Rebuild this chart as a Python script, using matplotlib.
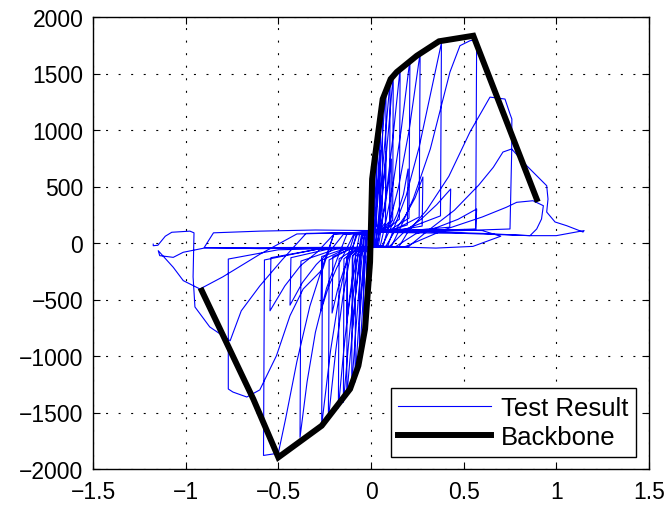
import matplotlib
matplotlib.use("Agg")
import matplotlib.pyplot as plt
import numpy as np

# ---------------- data ----------------
# Backbone (envelope) curve
backbone_x = [-0.913, -0.635, -0.500, -0.266, -0.113, -0.068, -0.032, -0.005,
              0.006, 0.022, 0.063, 0.106, 0.139, 0.247, 0.367, 0.552, 0.894]
backbone_y = [-422, -1381, -1897, -1617, -1292, -1086, -761, -168,
              566, 770, 1274, 1451, 1513, 1657, 1785, 1834, 389]

# Test result: hysteresis cycles, in loading order (displacement, force)
cyc01_x = [0.000, 0.004, 0.010, 0.016, 0.014, 0.008, 0.000, -0.008, -0.012, -0.017, -0.023, -0.021, -0.010, 0.000, 0.004]
cyc01_y = [-20, 200, 480, 680, 130, 100, 90, 70, -150, -380, -560, -120, -40, -30, -25]
cyc02_x = [0.004, 0.012, 0.020, 0.027, 0.031, 0.028, 0.015, 0.000, -0.014, -0.020, -0.027, -0.034, -0.041, -0.038, -0.020, 0.000, 0.008]
cyc02_y = [-25, 250, 560, 820, 1000, 150, 100, 90, 70, -150, -380, -620, -850, -120, -40, -30, -25]
cyc03_x = [0.008, 0.018, 0.030, 0.040, 0.049, 0.046, 0.024, 0.000, -0.020, -0.030, -0.040, -0.052, -0.063, -0.060, -0.030, 0.000, 0.012]
cyc03_y = [-25, 260, 620, 930, 1200, 160, 100, 90, 70, -150, -420, -760, -1080, -120, -40, -30, -25]
cyc03b_x = [0.012, 0.024, 0.037, 0.049, 0.047, 0.024, 0.000, -0.022, -0.035, -0.050, -0.063, -0.061, -0.030, 0.000, 0.014]
cyc03b_y = [-25, 200, 470, 820, 140, 100, 90, 70, -180, -430, -720, -110, -40, -30, -25]
cyc04_x = [0.014, 0.025, 0.038, 0.051, 0.063, 0.060, 0.030, 0.000, -0.028, -0.040, -0.054, -0.070, -0.086, -0.083, -0.040, 0.000, 0.018]
cyc04_y = [-25, 240, 600, 960, 1290, 170, 105, 90, 70, -150, -440, -820, -1230, -120, -40, -30, -25]
cyc05_x = [0.018, 0.030, 0.046, 0.064, 0.081, 0.078, 0.040, 0.000, -0.035, -0.050, -0.067, -0.086, -0.104, -0.101, -0.050, 0.000, 0.022]
cyc05_y = [-25, 230, 590, 990, 1380, 180, 105, 90, 70, -150, -460, -860, -1270, -120, -40, -30, -25]
cyc05b_x = [0.022, 0.038, 0.054, 0.068, 0.080, 0.078, 0.040, 0.000, -0.036, -0.054, -0.070, -0.086, -0.100, -0.098, -0.050, 0.000, 0.026]
cyc05b_y = [-25, 140, 330, 560, 805, 150, 100, 90, 70, -110, -280, -500, -760, -110, -40, -30, -25]
cyc06_x = [0.026, 0.040, 0.058, 0.080, 0.103, 0.100, 0.050, 0.000, -0.045, -0.064, -0.084, -0.106, -0.131, -0.128, -0.060, 0.000, 0.030]
cyc06_y = [-25, 220, 570, 990, 1440, 190, 110, 92, 72, -150, -470, -890, -1360, -130, -40, -30, -25]
cyc06b_x = [0.030, 0.050, 0.072, 0.092, 0.110, 0.107, 0.055, 0.000, -0.046, -0.070, -0.092, -0.112, -0.130, -0.127, -0.060, 0.000, 0.034]
cyc06b_y = [-25, 130, 300, 500, 743, 160, 105, 90, 70, -110, -270, -470, -700, -110, -40, -30, -25]
cyc07_x = [0.034, 0.050, 0.070, 0.094, 0.120, 0.117, 0.060, 0.000, -0.052, -0.074, -0.097, -0.122, -0.149, -0.146, -0.070, 0.000, 0.040]
cyc07_y = [-28, 210, 560, 990, 1490, 200, 112, 92, 72, -150, -480, -910, -1410, -140, -45, -32, -28]
cyc08_x = [0.040, 0.062, 0.090, 0.122, 0.157, 0.153, 0.080, 0.000, -0.062, -0.088, -0.116, -0.146, -0.176, -0.172, -0.080, 0.000, 0.050]
cyc08_y = [-28, 200, 540, 990, 1540, 210, 115, 95, 75, -150, -490, -930, -1460, -140, -45, -32, -28]
cyc09_x = [0.050, 0.080, 0.118, 0.162, 0.210, 0.205, 0.105, 0.000, -0.080, -0.115, -0.152, -0.190, -0.230, -0.226, -0.110, 0.000, 0.060]
cyc09_y = [-28, 190, 510, 990, 1620, 220, 118, 95, 75, -140, -480, -950, -1560, -150, -48, -32, -28]
cyc09b_x = [0.060, 0.100, 0.140, 0.175, 0.200, 0.196, 0.100, 0.000, -0.075, -0.110, -0.145, -0.180, -0.210, -0.206, -0.100, 0.000, 0.065]
cyc09b_y = [-28, 110, 250, 430, 655, 160, 108, 92, 72, -90, -230, -410, -620, -120, -45, -32, -28]
cyc10_x = [0.065, 0.100, 0.148, 0.205, 0.265, 0.260, 0.130, 0.000, -0.090, -0.130, -0.172, -0.218, -0.266, -0.262, -0.130, 0.000, 0.080]
cyc10_y = [-30, 180, 490, 990, 1680, 230, 120, 95, 75, -140, -470, -950, -1610, -150, -48, -32, -30]
cyc10b_x = [0.080, 0.130, 0.185, 0.238, 0.280, 0.276, 0.140, 0.000, -0.095, -0.140, -0.185, -0.230, -0.270, -0.266, -0.130, 0.000, 0.090]
cyc10b_y = [-30, 110, 240, 400, 584, 150, 110, 92, 72, -80, -220, -390, -600, -120, -45, -32, -30]
cyc11_x = [0.090, 0.130, 0.190, 0.260, 0.325, 0.380, 0.375, 0.190, 0.000, -0.130, -0.180, -0.240, -0.300,
           -0.345, -0.383, -0.378, -0.190, 0.000, 0.100]
cyc11_y = [-30, 160, 420, 850, 1350, 1770, 240, 125, 98, 78, -130, -400, -790,
           -1230, -1720, -160, -55, -35, -30]
cyc11b_x = [0.100, 0.180, 0.270, 0.355, 0.430, 0.425, 0.215, 0.000, -0.150, -0.220, -0.295, -0.370, -0.437, -0.432, -0.220, 0.000, 0.110]
cyc11b_y = [-30, 100, 210, 340, 478, 140, 110, 95, 75, -70, -190, -350, -550, -130, -50, -35, -30]
cyc12_x = [0.110, 0.160, 0.230, 0.320, 0.426, 0.480, 0.534, 0.570, 0.565, 0.300, 0.000, -0.200, -0.260, -0.330,
           -0.400, -0.460, -0.500, -0.580, -0.575, -0.290, 0.000, 0.130]
cyc12_y = [-30, 140, 400, 832, 1513, 1746, 1790, 1800, 124, 110, 100, 80, -200, -560,
           -1050, -1550, -1860, -1880, -150, -55, -38, -35]
cyc12b_x = [0.130, 0.240, 0.360, 0.470, 0.570, 0.565, 0.300, 0.000, -0.200, -0.290, -0.380, -0.465, -0.545, -0.540, -0.270, 0.000, 0.150]
cyc12b_y = [-35, 80, 140, 210, 301, 120, 105, 95, 78, -80, -200, -380, -600, -130, -50, -38, -35]
cyc12c_x = [0.150, 0.350, 0.550, 0.700, 0.600, 0.300, 0.000, -0.300, -0.600, -0.850, -0.900, -0.600, -0.300, 0.000, 0.150]
cyc12c_y = [-35, -45, -30, 60, 110, 120, 110, 115, 105, 90, -40, -50, -45, -40, -35]
cyc13_x = [0.150, 0.200, 0.300, 0.420, 0.534, 0.642, 0.723, 0.750, 0.760, 0.759, 0.750, 0.400, 0.000, -0.200,
           -0.260, -0.366, -0.437, -0.510, -0.600, -0.670, -0.745, -0.770, -0.770, -0.500, 0.000, 0.180]
cyc13_y = [-35, 100, 290, 590, 982, 1291, 1274, 1142, 1097, 800, 124, 105, 100, 85,
           -230, -407, -643, -997, -1300, -1363, -1319, -1292, -142, -60, -40, -35]
cyc13b_x = [0.180, 0.400, 0.600, 0.730, 0.786, 0.874, 0.930, 0.920, 0.894, 0.858, 0.500, 0.000, -0.400, -0.600,
            -0.800, -0.923, -1.013, -1.067, -1.148, -1.140, -1.067, -1.013, -0.900, -0.500, 0.000, 0.200]
cyc13b_y = [-35, 120, 230, 316, 360, 374, 330, 212, 124, 65, 85, 95, 80, -100,
            -300, -407, -333, -215, -68, -112, -127, -82, -45, -40, -38, -35]
cyc14_x = [0.200, 0.300, 0.450, 0.580, 0.660, 0.712, 0.759, 0.840, 0.894, 0.948, 0.955, 0.948, 0.993,
           1.056, 1.144, 1.150, 1.000, 0.858, 0.600, 0.300, 0.000]
cyc14_y = [-35, 100, 290, 510, 670, 805, 832, 684, 596, 507, 389, 274, 186,
           153, 97, 110, 65, 65, 85, 100, 95]
cyc15_x = [0.000, -0.350, -0.480, -0.600, -0.700, -0.760, -0.870, -0.950, -0.960, -0.955, -0.977, -1.075,
           -1.110, -1.150, -1.175, -1.175]
cyc15_y = [95, 85, -150, -380, -600, -865, -743, -566, -300, 90, 105, 95,
           60, -20, -24, -10]

cycles_x = [cyc01_x, cyc02_x, cyc03_x, cyc03b_x, cyc04_x, cyc05_x, cyc05b_x, cyc06_x, cyc06b_x,
            cyc07_x, cyc08_x, cyc09_x, cyc09b_x, cyc10_x, cyc10b_x, cyc11_x, cyc11b_x,
            cyc12_x, cyc12b_x, cyc12c_x, cyc13_x, cyc13b_x, cyc14_x, cyc15_x]
cycles_y = [cyc01_y, cyc02_y, cyc03_y, cyc03b_y, cyc04_y, cyc05_y, cyc05b_y, cyc06_y, cyc06b_y,
            cyc07_y, cyc08_y, cyc09_y, cyc09b_y, cyc10_y, cyc10b_y, cyc11_y, cyc11b_y,
            cyc12_y, cyc12b_y, cyc12c_y, cyc13_y, cyc13b_y, cyc14_y, cyc15_y]

x_ticks = [-1.5, -1, -0.5, 0, 0.5, 1, 1.5]
x_tick_labels = ["\u22121.5", "\u22121", "\u22120.5", "0", "0.5", "1", "1.5"]
y_ticks = [-2000, -1500, -1000, -500, 0, 500, 1000, 1500, 2000]
y_tick_labels = ["\u22122000", "\u22121500", "\u22121000", "\u2212500", "0", "500", "1000", "1500", "2000"]
legend_labels = ["Test Result", "Backbone"]

# ---------------- plot ----------------
plt.rcParams['font.family'] = ['Liberation Sans', 'DejaVu Sans']

fig = plt.figure(figsize=(6.7, 5.06), dpi=100)
ax = fig.add_axes([93 / 670, 36 / 506, 556 / 670, 452 / 506])

test_x = np.concatenate([np.asarray(c, float) for c in cycles_x])
test_y = np.concatenate([np.asarray(c, float) for c in cycles_y])
ln_test, = ax.plot(test_x, test_y, color='#0000ff', lw=0.8, label=legend_labels[0], zorder=2)
ln_bb, = ax.plot(backbone_x, backbone_y, color='black', lw=4.3, solid_joinstyle='miter',
                 label=legend_labels[1], zorder=3)

ax.set_xlim(-1.5, 1.5)
ax.set_ylim(-2000, 2000)
ax.set_xticks(x_ticks)
ax.set_xticklabels(x_tick_labels)
ax.set_yticks(y_ticks)
ax.set_yticklabels(y_tick_labels)
ax.tick_params(direction='in', length=5, width=0.8, top=True, right=True,
               labelsize=16.5, colors='black')
ax.tick_params(axis='x', pad=8)
ax.tick_params(axis='y', pad=7)
ax.grid(True, color='black', lw=0.8, linestyle=(0, (1.8, 9.5)))
for s in ax.spines.values():
    s.set_linewidth(1.0)
    s.set_color('black')

leg = ax.legend(handles=[ln_test, ln_bb], loc='lower right', bbox_to_anchor=(0.977, 0.027),
                borderaxespad=0, fontsize=18.5, frameon=True, fancybox=False, framealpha=1,
                edgecolor='black', handlelength=3.6, handletextpad=0.4, labelspacing=0.2,
                borderpad=0.3)
leg.get_frame().set_linewidth(1.0)

fig.savefig("out.png", dpi=100, facecolor='white')
